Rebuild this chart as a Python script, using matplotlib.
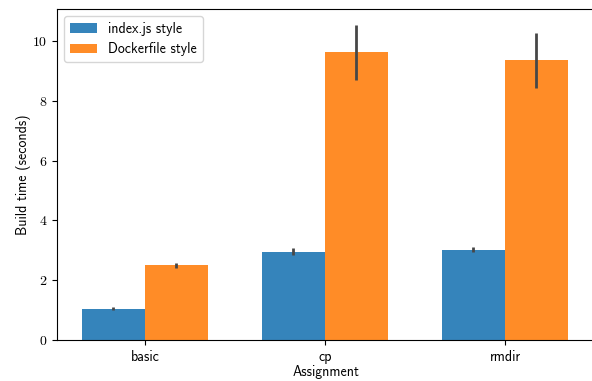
import matplotlib
matplotlib.use("Agg")
import matplotlib.pyplot as plt
import numpy as np

assignments = ["basic", "cp", "rmdir"]
series = ["index.js style", "Dockerfile style"]
means = {
    "index.js style": [1.05, 2.95, 3.02],
    "Dockerfile style": [2.50, 9.62, 9.35],
}
err_low = {
    "index.js style": [1.01, 2.85, 2.95],
    "Dockerfile style": [2.42, 8.70, 8.43],
}
err_high = {
    "index.js style": [1.09, 3.07, 3.10],
    "Dockerfile style": [2.58, 10.52, 10.26],
}
colors = ["#3584bb", "#ff8c27"]

plt.rcParams["font.family"] = "cmss10"
plt.rcParams["axes.formatter.use_mathtext"] = True
plt.rcParams["font.size"] = 10

fig = plt.figure(figsize=(5.92, 3.81), dpi=100)
ax = fig.add_axes([57 / 592, 41 / 381, (595 - 57) / 592, (340 - 9) / 381])

x = np.arange(len(assignments))
width = 0.35
for i, (name, col) in enumerate(zip(series, colors)):
    pos = x + (i - 0.5) * width
    ax.bar(pos, means[name], width, color=col, label=name)
    lo = np.array(err_low[name])
    hi = np.array(err_high[name])
    ax.vlines(pos, lo, hi, color="#474747", linewidth=2)

ax.set_xticks(x)
ax.set_xticklabels(assignments)
ax.set_xlim(-0.488, 2.5)
ax.set_ylim(0, 11.07)
ax.set_yticks([0, 2, 4, 6, 8, 10])
for lab in ax.get_yticklabels():
    lab.set_family("cmr10")
ax.set_xlabel("Assignment", labelpad=1)
ax.set_ylabel("Build time (seconds)", labelpad=1)
ax.legend(loc="upper left")

fig.savefig("out.png", dpi=100)
